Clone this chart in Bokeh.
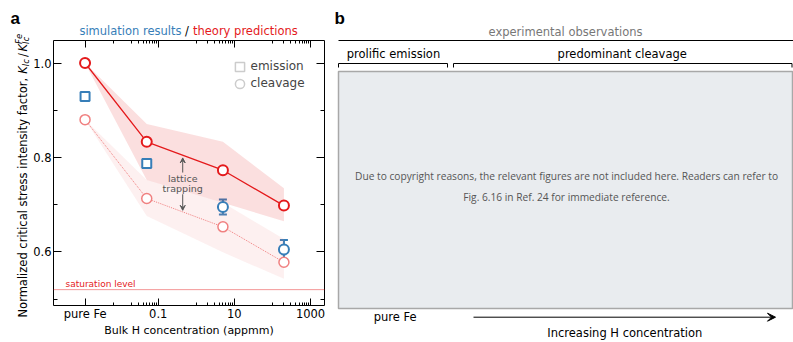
import math
from bokeh.plotting import figure
from bokeh.layouts import row, column
from bokeh.models import (Range1d, FixedTicker, LogAxis, LinearAxis, Label, Legend, LegendItem,
                          Whisker, TeeHead, Arrow, VeeHead, ColumnDataSource, Span)
from bokeh.embed import file_html
from bokeh.resources import INLINE

# ---------------- data (panel a) ----------------
PURE_FE = 1.2e-3                      # nominal axis position for "pure Fe"
conc = [PURE_FE, 0.05, 5, 200]        # bulk H concentration (appmm)
theory_upper = [1.0, 0.833, 0.773, 0.698]
theory_lower = [0.88, 0.713, 0.653, 0.578]
band_upper_hi = [1.0, 0.871, 0.833, 0.735]
band_upper_lo = [1.0, 0.752, 0.704, 0.665]
band_lower_hi = [0.88, 0.752, 0.704, 0.627]
band_lower_lo = [0.88, 0.676, 0.599, 0.543]
emission_conc = [PURE_FE, 0.05]
emission_sim = [0.929, 0.787]
emission_err = [0.0, 0.007]
cleavage_conc = [5, 200]
cleavage_sim = [0.695, 0.605]
cleavage_err = [0.016, 0.02]
saturation_level = 0.52
x_major = [PURE_FE, 0.1, 10, 1000]
x_labels = ["pure Fe", "0.1", "10", "1000"]
x_minor = [0.0065, 0.02, 0.03, 0.04, 0.05, 0.06, 0.07, 0.08, 0.09,
           1, 2, 3, 4, 5, 6, 7, 8, 9,
           100, 200, 300, 400, 500, 600, 700, 800, 900]
y_major = [0.6, 0.8, 1.0]
y_labels = ["0.6", "0.8", "1.0"]
y_minor = [0.5, 0.7, 0.9]

RED = "#e41a1c"
LIGHT = "#f08080"
BLUE = "#377eb8"
GRAY = "#cccccc"
FONT = "DejaVu Sans"
H = 342


def strip(width, height, x0, x1, y0, y1, bl=0, br=0):
    f = figure(width=width, height=height, x_range=Range1d(x0, x1), y_range=Range1d(y1, y0),
               output_backend="svg", toolbar_location=None, min_border=0,
               min_border_left=bl, min_border_right=br,
               x_axis_location=None, y_axis_location=None)
    f.grid.visible = False
    f.outline_line_color = None
    return f


def lab(fig, x, y, text, **kw):
    opts = dict(x=x, y=y, text=text, text_font=FONT, text_font_size="11.5px", text_color="black",
                text_baseline="middle", text_align="center")
    opts.update(kw)
    fig.add_layout(Label(**opts))


# ---------------- panel a: main plot ----------------
p = figure(width=303, height=284, x_axis_type="log",
           x_range=Range1d(1.78e-4, 2325), y_range=Range1d(0.4864, 1.0477),
           output_backend="svg", toolbar_location=None,
           min_border_left=22, min_border_right=9, min_border_top=1, min_border_bottom=0)
p.xgrid.visible = False
p.ygrid.visible = False
p.outline_line_color = "black"
p.outline_line_alpha = 1.0
p.outline_line_width = 1


def style_axis(ax, show_labels, major_in, minor_in):
    ax.axis_line_color = None
    ax.major_tick_in = major_in
    ax.major_tick_out = 0
    ax.minor_tick_in = minor_in
    ax.minor_tick_out = 0
    ax.major_tick_line_color = "black"
    ax.minor_tick_line_color = "black"
    ax.major_label_text_font = FONT
    ax.major_label_text_color = "black"
    if show_labels:
        ax.major_label_text_font_size = "11.5px"
        ax.major_label_standoff = 1
    else:
        ax.major_label_text_font_size = "1px"
        ax.major_label_text_alpha = 0
        ax.major_label_standoff = 0


xt = FixedTicker(ticks=x_major, minor_ticks=x_minor)
yt = FixedTicker(ticks=y_major, minor_ticks=y_minor)
p.xaxis.ticker = xt
p.xaxis.major_label_overrides = dict(zip(x_major, x_labels))
p.yaxis.ticker = yt
p.yaxis.major_label_overrides = dict(zip(y_major, y_labels))
for ax in p.xaxis:
    style_axis(ax, True, 7, 3)
for ax in p.yaxis:
    style_axis(ax, True, 8, 4)
    ax.major_label_standoff = 2

top_ax = LogAxis(ticker=xt)
style_axis(top_ax, False, 7, 3)
p.add_layout(top_ax, "above")
right_ax = LinearAxis(ticker=yt)
style_axis(right_ax, False, 8, 4)
p.add_layout(right_ax, "right")

# uncertainty bands
p.varea(x=conc, y1=band_lower_lo, y2=band_lower_hi, fill_color=LIGHT, fill_alpha=0.12)
p.varea(x=conc, y1=band_upper_lo, y2=band_upper_hi, fill_color=RED, fill_alpha=0.14)

# saturation level
p.add_layout(Span(location=saturation_level, dimension="width", line_color=RED,
                  line_dash="1 1", line_width=1, line_alpha=0.9))
p.add_layout(Label(x=3.67e-4, y=0.5315, text="saturation level", text_color=RED,
                   text_font=FONT, text_font_size="9px", text_baseline="middle"))

# theory lines
p.line(conc, theory_lower, line_color=LIGHT, line_width=1, line_dash="1 1")
p.line(conc, theory_upper, line_color=RED, line_width=1.3)

# error bars
em_idx = [i for i, e in enumerate(emission_err) if e > 0]
err_x = [emission_conc[i] for i in em_idx] + list(cleavage_conc)
err_up = [emission_sim[i] + emission_err[i] for i in em_idx] + [v + e for v, e in zip(cleavage_sim, cleavage_err)]
err_lo = [emission_sim[i] - emission_err[i] for i in em_idx] + [v - e for v, e in zip(cleavage_sim, cleavage_err)]
err_src = ColumnDataSource(data=dict(x=err_x, upper=err_up, lower=err_lo))
p.add_layout(Whisker(source=err_src, base="x", upper="upper", lower="lower", dimension="height",
                     line_color=BLUE, line_width=2,
                     upper_head=TeeHead(size=8, line_color=BLUE, line_width=2),
                     lower_head=TeeHead(size=8, line_color=BLUE, line_width=2)))

# markers
p.scatter(conc, theory_lower, marker="circle", size=10, line_color=LIGHT, line_width=1.5, fill_color="white")
p.scatter(conc, theory_upper, marker="circle", size=10, line_color=RED, line_width=2, fill_color="white")
p.scatter(emission_conc, emission_sim, marker="square", size=9, line_color=BLUE, line_width=2, fill_color="white")
p.scatter(cleavage_conc, cleavage_sim, marker="circle", size=10, line_color=BLUE, line_width=2, fill_color="white")

# legend: gray generic symbols (hidden renderers, shown only in the legend)
leg_sq = p.scatter(emission_conc, emission_sim, marker="square", size=9, line_color=GRAY,
                   line_width=1.5, fill_color=None, visible=False)
leg_ci = p.scatter(cleavage_conc, cleavage_sim, marker="circle", size=9, line_color=GRAY,
                   line_width=1.5, fill_color=None, visible=False)
for rend, name, cy in [(leg_sq, "emission", 66), (leg_ci, "cleavage", 83)]:
    lg = Legend(items=[LegendItem(label=name, renderers=[rend])],
                location=(174.5, 293.5 - cy), margin=0, padding=0, spacing=0,
                glyph_width=23, glyph_height=23, label_standoff=0, label_height=23,
                label_text_font=FONT, label_text_font_size="12px",
                background_fill_alpha=0, border_line_alpha=0)
    p.add_layout(lg)

# lattice trapping annotation
p.add_layout(Label(x=0.44, y=0.755, text="lattice", text_font=FONT, text_font_size="9.5px",
                   text_color="#555555", text_align="center", text_baseline="middle"))
p.add_layout(Label(x=0.44, y=0.734, text="trapping", text_font=FONT, text_font_size="9.5px",
                   text_color="#555555", text_align="center", text_baseline="middle"))
p.add_layout(Arrow(x_start=0.44, y_start=0.768, x_end=0.44, y_end=0.799, line_color="#555555",
                   line_width=1, end=VeeHead(size=5, line_color="#555555", fill_color="#555555", line_width=1)))
p.add_layout(Arrow(x_start=0.44, y_start=0.722, x_end=0.44, y_end=0.688, line_color="#555555",
                   line_width=1, end=VeeHead(size=5, line_color="#555555", fill_color="#555555", line_width=1)))

# ---------------- panel a: text strips (page pixel coordinates) ----------------
top = strip(303, 39, 52, 324, 0, 39, bl=22, br=9)
lab(top, 180.5, 30, "simulation results", text_color=BLUE, text_align="right")
lab(top, 186, 30, "/")
lab(top, 192, 30, "theory predictions", text_color=RED, text_align="left")

bottom = strip(303, 19, 52, 324, 323, 342, bl=22, br=9)
lab(bottom, 188, 330, "Bulk H concentration (appmm)", text_font_size="11px")

left = strip(30, H, 0, 30, 0, H)
lab(left, 10, 18, "a", text_font="Liberation Sans", text_font_style="bold", text_font_size="17px",
    text_align="left")
A = math.pi / 2
yx = 22
lab(left, yx, 317, "Normalized critical stress intensity factor, ", angle=A, text_align="left")
lab(left, yx, 73.3, "K", angle=A, text_align="left", text_font_style="italic")
lab(left, yx + 3, 65.8, "Ic", angle=A, text_align="left", text_font_style="italic", text_font_size="8.5px")
lab(left, yx, 56.5, "/", angle=A, text_align="left")
lab(left, yx, 51, "K", angle=A, text_align="left", text_font_style="italic")
lab(left, yx + 3, 43.5, "Ic", angle=A, text_align="left", text_font_style="italic", text_font_size="8.5px")
lab(left, yx - 4, 43.5, "Fe", angle=A, text_align="left", text_font_style="italic", text_font_size="8.5px")

panel_a = row(left, column(top, p, bottom))

# ---------------- panel b (placeholder, page pixel coordinates) ----------------
q = strip(460, H, 333, 793, 0, H)
q.quad(left=338, right=792, top=71, bottom=308, fill_color="#e9ecef", line_color="#a8a8a8", line_width=1.5)
q.segment(x0=338, y0=40, x1=793, y1=40, line_color="black", line_width=1)
q.multi_line(xs=[[338, 338, 447, 447], [453, 453, 791.5, 791.5]],
             ys=[[67, 63, 63, 67], [67, 63, 63, 67]], line_color="black", line_width=1)
q.add_layout(Arrow(x_start=473, y_start=316.7, x_end=775, y_end=316.7, line_color="black", line_width=1,
                   end=VeeHead(size=8, line_color="black", fill_color="black", line_width=1)))
lab(q, 334, 18, "b", text_font="Liberation Sans", text_font_style="bold", text_font_size="17px",
    text_align="left")
lab(q, 565, 31.5, "experimental observations", text_color="#777777")
lab(q, 393, 53.5, "prolific emission")
lab(q, 621.7, 53.5, "predominant cleavage")
lab(q, 566, 175,
    "Due to copyright reasons, the relevant figures are not included here. Readers can refer to",
    text_font="Open Sans", text_font_size="10.2px", text_color="#555555")
lab(q, 566, 196.7, "Fig. 6.16 in Ref. 24 for immediate reference.",
    text_font="Open Sans", text_font_size="10.2px", text_color="#555555")
lab(q, 394.7, 316.7, "pure Fe")
lab(q, 624.3, 332, "Increasing H concentration")

layout = row(panel_a, q)
with open("out.html", "w") as f:
    f.write(file_html(layout, INLINE))
